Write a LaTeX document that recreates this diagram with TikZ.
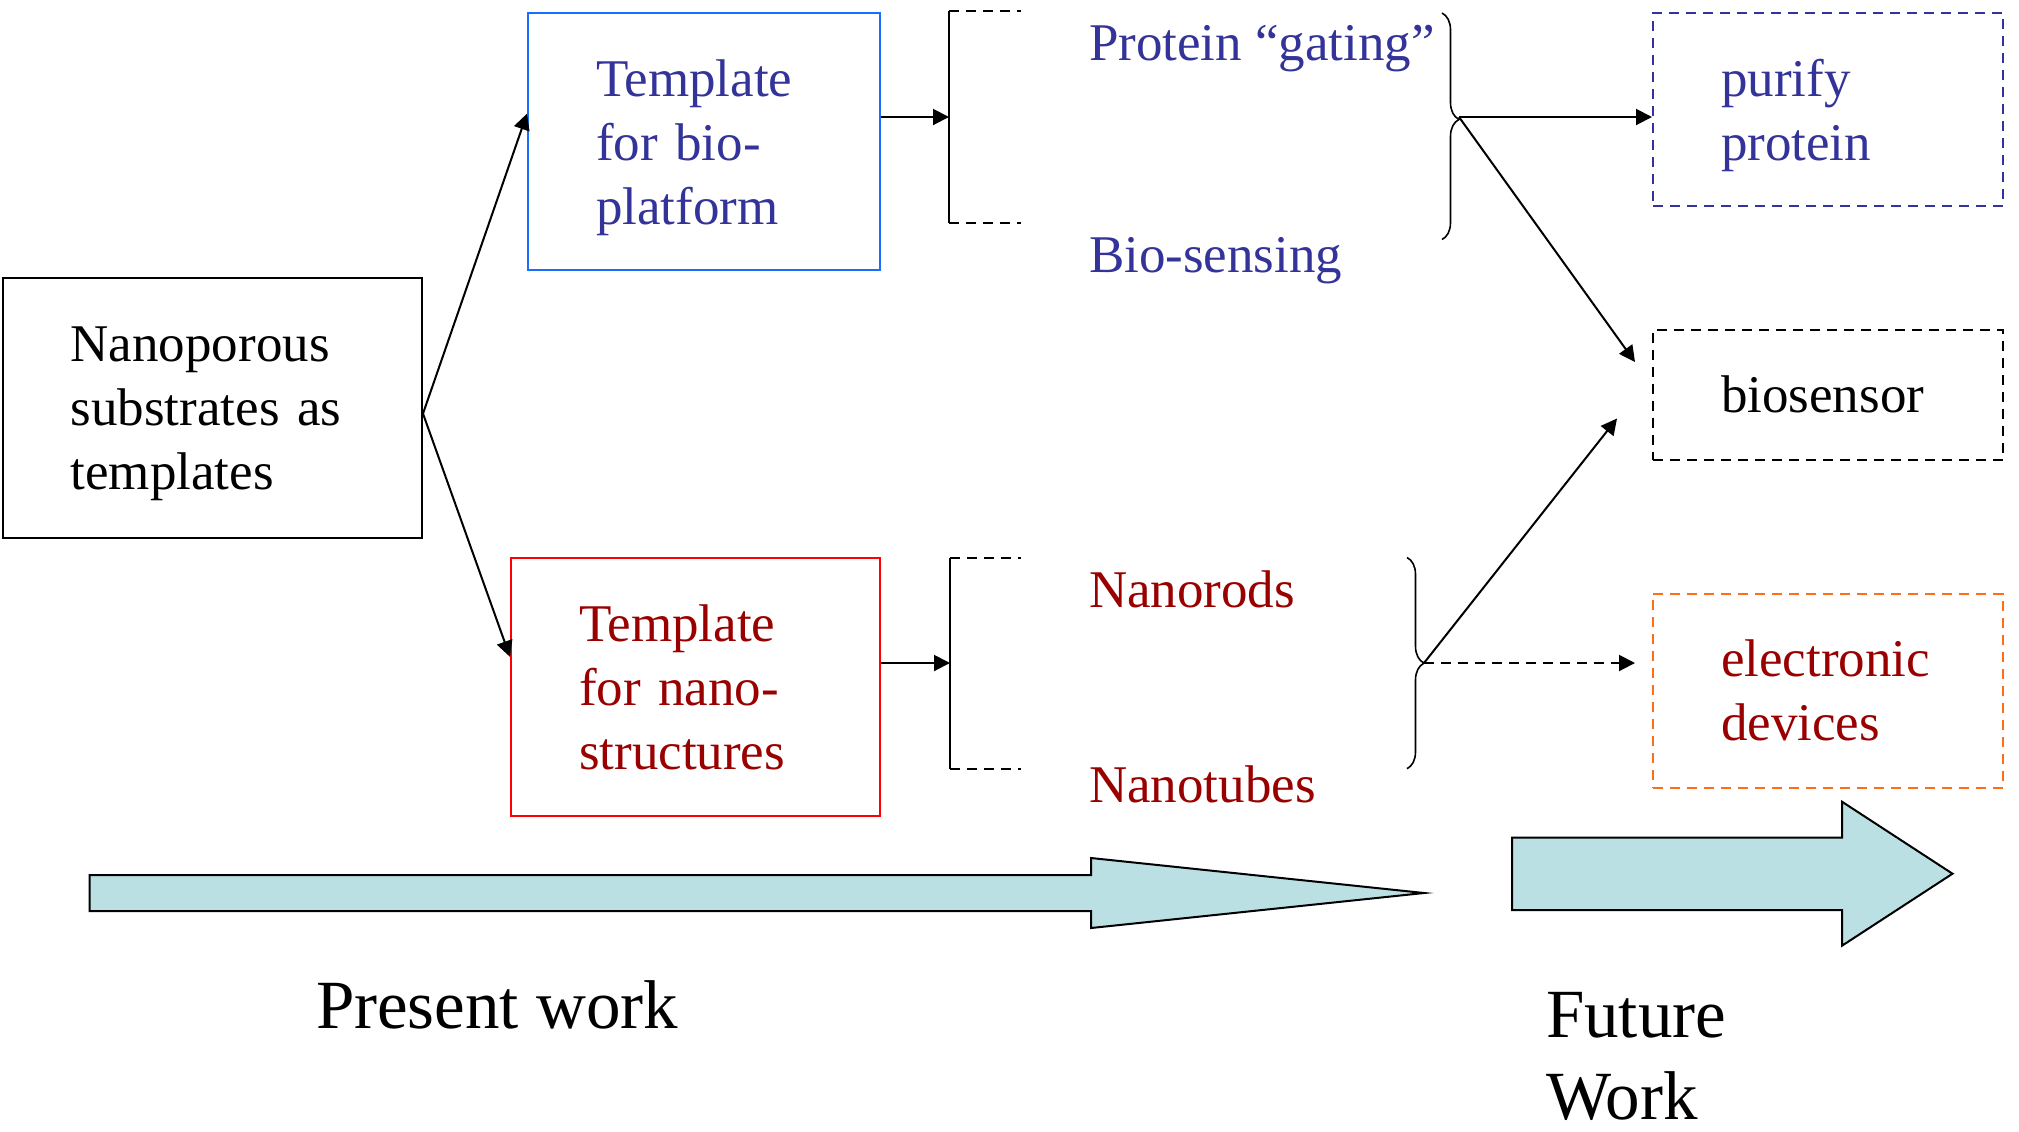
\documentclass[tikz,border=0pt]{standalone}
\usepackage{fontspec}
\setmainfont{Liberation Serif}
\usepackage{tikz}
\usetikzlibrary{arrows.meta,calc,decorations.pathreplacing}

\definecolor{biotext}{RGB}{51,51,153}
\definecolor{bioframe}{RGB}{26,110,255}
\definecolor{nanotext}{RGB}{153,0,0}
\definecolor{futframe}{RGB}{255,110,20}
\definecolor{arrowfill}{RGB}{187,224,227}

% last line without descender depth
\newcommand{\flatline}[1]{\raisebox{0pt}[\height][0pt]{#1}}

\tikzset{
  txt/.style={font=\fontsize{26.5}{32}\selectfont},
  dashline/.style={dash pattern=on 5pt off 3.5pt},
  box/.style={txt, draw, line width=1pt, inner xsep=34pt, inner ysep=0pt, align=left},
  dashbox/.style={box, dashline},
  label/.style={txt, inner sep=0pt, anchor=base west},
  bigarrow/.style={draw=black, line width=1pt, fill=arrowfill},
  curly/.style={decorate, decoration={brace, amplitude=8.5pt}, line width=0.8pt},
}

\begin{document}
\begin{tikzpicture}[x=0.5pt, y=-0.5pt, >={Triangle[length=8pt,width=8pt]}, line width=1pt]
\useasboundingbox (0,0) rectangle (2019,1131);
% boxes
\node[box, text width=141.7pt, minimum height=130pt] (nano) at (212.3,408) {Nanoporous\\substrates as\\\flatline{templates}};
\node[box, draw=bioframe, text=biotext, text width=107.75pt, minimum height=128.75pt] (biotpl) at (703.75,141.65) {Template\\for bio-\\\flatline{platform}};
\node[box, draw=red, text=nanotext, text width=116.25pt, minimum height=129.4pt] (nanotpl) at (695.25,686.9) {Template\\for nano-\\structures};
\node[dashbox, draw=biotext, text=biotext, text width=107pt, minimum height=96.5pt] (purify) at (1828,109.5) {purify\\\flatline{protein}};
\node[dashbox, text width=107pt, minimum height=65pt] (sensor) at (1828,394.6) {biosensor};
\node[dashbox, draw=futframe, text=nanotext, text width=107pt, minimum height=97.2pt] (device) at (1828,690.8) {electronic\\devices};
% labels
\node[label, text=biotext] (gating) at (1088,60) {Protein “gating”};
\node[label, text=biotext] (biosens) at (1088,272) {Bio-sensing};
\node[label, text=nanotext] (rods) at (1088,607) {Nanorods};
\node[label, text=nanotext] (tubes) at (1088,802) {Nanotubes};
% brackets
\coordinate (brA) at (949,117);
\coordinate (brB) at (950,663);
\draw (949,11) -- (949,223);
\draw[dashline] (949,11) -- (1021,11);
\draw[dashline] (949,223) -- (1021,223);
\draw (950,558) -- (950,769);
\draw[dashline] (950,558) -- (1021,558);
\draw[dashline] (950,769) -- (1021,769);
\draw[->] (biotpl.east |- brA) -- (brA);
\draw[->] (nanotpl.east |- brB) -- (brB);
\draw[->] ([yshift=-2.8pt]nano.east) -- ([yshift=14pt]biotpl.west);
\draw[->] ([yshift=-2.8pt]nano.east) -- ([yshift=15pt]nanotpl.west);
% braces
\draw[curly, decoration={aspect=0.47}] (1442,13) -- (1442,239.5);
\draw[curly] (1407,557.5) -- (1407,768.7);
\coordinate (tipA) at (1459,117);
\coordinate (tipB) at (1424,663);
\coordinate (endA) at (1635,362);
\coordinate (endB) at (1617,418.5);
\coordinate (endC) at (1635,663);
\draw[->] (tipA) -- (purify.west |- tipA);
\draw[->] (tipA) -- (endA);
\draw[->] (tipB) -- (endB);
\draw[->, dashline] (tipB) -- (endC);
% big arrows
\draw[bigarrow] (89.5,875) -- (1091,875) -- (1091,858) -- (1424,893) -- (1091,928) -- (1091,911) -- (89.5,911) -- cycle;
\draw[bigarrow] (1512,837.7) -- (1842,837.7) -- (1842,801.7) -- (1952.5,873.7) -- (1842,945.7) -- (1842,910) -- (1512,910) -- cycle;
\node[label, font=\fontsize{34.5}{41}\selectfont] (present) at (315,1028) {Present work};
\node[label, font=\fontsize{34.5}{41}\selectfont, align=left] (future) at (1545,1119) {Future\\Work};
\end{tikzpicture}
\end{document}
